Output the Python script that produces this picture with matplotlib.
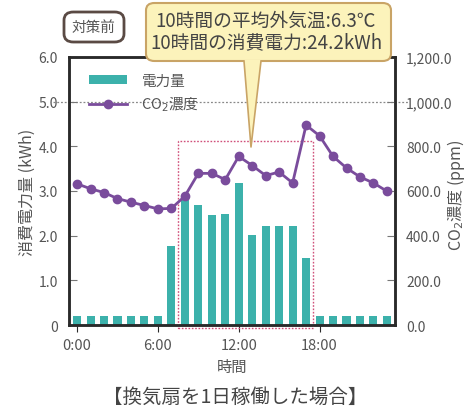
import matplotlib.pyplot as plt
from matplotlib.patches import FancyBboxPatch, Polygon, Rectangle
from matplotlib.ticker import FuncFormatter

plt.rcParams['font.family'] = ['Noto Sans CJK JP', 'DejaVu Sans']

# hourly data, 0:00 - 23:00
hours = list(range(24))
power_kwh = [0.2, 0.2, 0.2, 0.2, 0.2, 0.2, 0.2, 1.76, 2.79, 2.68, 2.46, 2.48,
             3.17, 2.02, 2.22, 2.22, 2.22, 1.49, 0.2, 0.2, 0.2, 0.2, 0.2, 0.2]
co2_ppm = [632, 610, 593, 566, 550, 535, 520, 522, 577, 679, 679, 651,
           755, 714, 669, 685, 636, 895, 847, 755, 703, 663, 636, 599]
xtick_pos = [0, 6, 12, 18]
xtick_labels = ['0:00', '6:00', '12:00', '18:00']
left_ticks = [0, 1, 2, 3, 4, 5, 6]
right_ticks = [0, 200, 400, 600, 800, 1000, 1200]
callout_text = '10時間の平均外気温:6.3℃\n10時間の消費電力:24.2kWh'

W, H = 467, 410
TEAL = '#3cb1ab'
PURPLE = '#7a4c9c'
TXT = '#555555'
SPINE = '#2a2a2a'

fig = plt.figure(figsize=(W / 100, H / 100), dpi=100)


def fx(px):
    return px / W


def fy(py):
    return 1 - py / H


ax = fig.add_axes([fx(69), fy(326), fx(395) - fx(69), fy(58) - fy(326)])
ax2 = ax.twinx()

bars = ax.bar(hours, power_kwh, width=0.6, color=TEAL, zorder=2)
line, = ax2.plot(hours, co2_ppm, color=PURPLE, lw=2, marker='o', ms=6, zorder=3)

ax.set_xlim(-0.6, 23.6)
ax.set_ylim(0, 6)
ax2.set_ylim(0, 1200)
ax.set_zorder(ax2.get_zorder() - 1)
ax.patch.set_visible(False)
ax2.patch.set_visible(False)

# the dotted 5.0 guide line
ax.plot([-0.05, 1.04], [5 / 6, 5 / 6], transform=ax.transAxes, color='#888888',
        lw=0.9, ls=(0, (1.5, 1.5)), clip_on=False, zorder=1)

# dotted frame around 8:00-18:00
ax.add_patch(Rectangle((7.5, -0.07), 10, 4.2, fill=False, ec='#d0507a',
                       lw=1.0, ls=(0, (1.2, 1.2)), clip_on=False, zorder=4))

ax.set_xticks(xtick_pos)
ax.set_xticklabels(xtick_labels)
ax.set_yticks(left_ticks)
ax.yaxis.set_major_formatter(FuncFormatter(lambda v, p: '0' if v == 0 else f'{v:.1f}'))
ax2.set_yticks(right_ticks)
ax2.yaxis.set_major_formatter(FuncFormatter(lambda v, p: f'{v:,.1f}'))

ax.tick_params(axis='x', direction='out', length=5, color=SPINE, labelsize=10.5,
               labelcolor=TXT, pad=4)
ax.tick_params(axis='y', direction='in', length=6, color='#777777', labelsize=10,
               labelcolor=TXT, pad=8)
ax2.tick_params(axis='y', direction='in', length=6, color='#777777', labelsize=10,
                labelcolor=TXT, pad=8)

for a in (ax, ax2):
    for s in a.spines.values():
        s.set_color(SPINE)
        s.set_linewidth(1.8)

ax.set_xlabel('時間', fontsize=11, color=TXT, labelpad=5)
ax.set_ylabel('消費電力量 (kWh)', fontsize=11.5, color=TXT, labelpad=2)
fig.text(fx(456), fy(195), 'CO$_2$濃度 (ppm)', rotation=90, fontsize=11.5,
         color=TXT, ha='center', va='center')

ax.legend([bars, line], ['電力量', 'CO$_2$濃度'], loc='upper left',
          bbox_to_anchor=(0.03, 0.975), frameon=False, fontsize=10.5,
          labelcolor=TXT, handlelength=2.6, handleheight=0.6,
          handletextpad=1.0, labelspacing=0.45, borderaxespad=0.3)

# callout box with its pointer
tail = Polygon([[fx(244), fy(61)], [fx(251), fy(148)], [fx(261), fy(61)]],
               closed=True, transform=fig.transFigure, fc='#fcf3bb', ec='none',
               zorder=10)
box = FancyBboxPatch((fx(146), fy(62)), fx(391) - fx(146), fy(4) - fy(62),
                     boxstyle='round,pad=0,rounding_size=0.018',
                     transform=fig.transFigure, fc='#fcf3bb', ec='#c9a466',
                     lw=1.5, zorder=9)
fig.patches.extend([box, tail])
fig.add_artist(plt.Line2D([fx(244), fx(251), fx(261)], [fy(62), fy(148), fy(62)],
                          transform=fig.transFigure, color='#c9a466', lw=1.2,
                          zorder=11))
fig.text(fx(266), fy(32), callout_text, ha='center', va='center', fontsize=13.5,
         color='#444444', linespacing=1.0, zorder=12)

# "before" label
tag = FancyBboxPatch((fx(64), fy(43)), fx(124) - fx(64), fy(13) - fy(43),
                     boxstyle='round,pad=0,rounding_size=0.02',
                     transform=fig.transFigure, fc='white', ec='#5a4a44', lw=2)
fig.patches.append(tag)
fig.text(fx(93), fy(28), '対策前', ha='center', va='center', fontsize=10.5,
         color='#555555')

fig.text(fx(235), fy(397), '【換気扇を1日稼働した場合】', ha='center', va='center',
         fontsize=14, color='#444444')

fig.savefig('out.png', dpi=100)
